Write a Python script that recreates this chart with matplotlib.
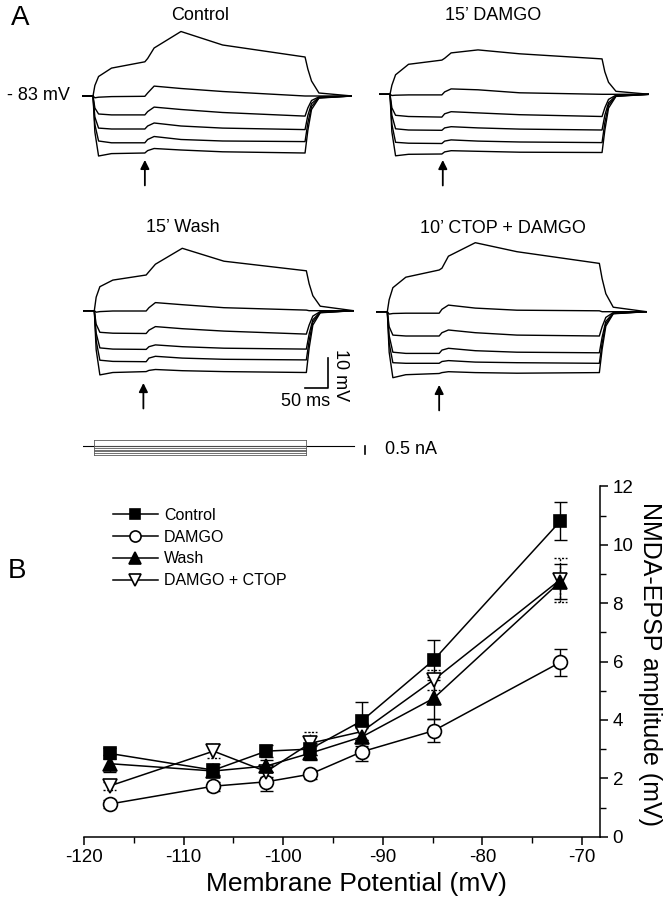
import matplotlib.pyplot as plt
from matplotlib.ticker import MultipleLocator

plt.rcParams['font.family'] = ['Liberation Sans', 'DejaVu Sans']

FIG_W, FIG_H = 672, 900
MS_PER_PX = 2.16
PX_PER_MV = 3.0

# ---- panel A: voltage responses, mV relative to rest (-83 mV) ----
trace_time_ms = [-24, 0, 4, 12, 40, 112, 118, 132, 190, 280, 458, 464, 472, 488, 560]

control_traces = [
    [0, 0, 3.5, 6.5, 9.3, 11.4, 12.5, 16.0, 21.5, 17.0, 13.0, 9.0, 5.0, 1.0, 0],
    [0, 0, -0.6, -0.4, -0.2, -0.1, 1.0, 3.3, 2.5, 1.5, 0.0, 0, 0, 0, 0],
    [0, 0, -4.0, -6.0, -6.3, -6.3, -5.2, -3.7, -4.5, -5.5, -6.7, -4.0, -1.5, -0.3, 0],
    [0, 0, -7.0, -10.7, -11.0, -11.0, -10.0, -9.0, -10.0, -10.7, -11.2, -6.5, -2.5, -0.5, 0],
    [0, 0, -9.5, -15.0, -15.6, -15.6, -14.5, -13.5, -14.5, -15.0, -15.2, -9.0, -3.5, -0.6, 0],
    [0, 0, -12.0, -20.0, -19.2, -19.0, -18.2, -17.5, -18.0, -18.6, -19.0, -11.5, -4.5, -0.7, 0],
]
damgo_traces = [
    [0, 0, 3.0, 6.5, 10.0, 11.4, 12.0, 13.8, 14.8, 13.5, 11.8, 7.5, 4.0, 1.0, 0],
    [0, 0, -0.4, -0.3, -0.2, -0.2, 0.8, 1.8, 1.5, 0.5, 0.0, 0, 0, 0, 0],
    [0, 0, -4.5, -7.0, -7.4, -7.6, -6.5, -5.8, -6.2, -6.8, -7.4, -4.5, -1.7, -0.3, 0],
    [0, 0, -7.0, -11.5, -11.9, -12.0, -11.2, -10.8, -11.2, -11.6, -11.9, -7.0, -2.8, -0.5, 0],
    [0, 0, -10.0, -16.0, -16.3, -16.4, -15.6, -15.2, -15.6, -15.9, -16.1, -9.5, -3.6, -0.6, 0],
    [0, 0, -12.5, -20.5, -20.0, -19.9, -19.2, -18.8, -19.0, -19.3, -19.4, -12.0, -4.6, -0.7, 0],
]
wash_traces = [
    [0, 0, 4.5, 8.0, 10.2, 11.9, 13.0, 15.5, 20.8, 16.5, 13.3, 9.0, 5.0, 1.5, 0],
    [0, 0, -0.5, -0.3, -0.1, -0.1, 1.0, 2.7, 2.0, 1.0, 0.2, 0, 0, 0, 0],
    [0, 0, -4.5, -7.2, -7.5, -7.6, -6.5, -5.3, -6.0, -6.8, -7.8, -4.8, -1.8, -0.3, 0],
    [0, 0, -7.5, -12.4, -12.8, -12.9, -12.0, -11.4, -12.0, -12.5, -12.8, -7.8, -3.0, -0.5, 0],
    [0, 0, -10.0, -16.5, -16.9, -17.0, -15.8, -15.2, -15.8, -16.2, -16.4, -10.0, -3.8, -0.6, 0],
    [0, 0, -13.0, -21.4, -20.6, -20.3, -19.9, -19.6, -20.0, -20.3, -20.6, -12.5, -4.8, -0.7, 0],
]
ctop_traces = [
    [0, 0, 4.0, 8.0, 11.5, 13.9, 14.5, 18.5, 23.0, 20.0, 16.1, 11.0, 6.0, 1.5, 0],
    [0, 0, -0.8, -0.6, -0.5, -0.5, 0.8, 2.2, 1.2, 0.5, 0.3, 0, 0, 0, 0],
    [0, 0, -5.0, -7.8, -8.1, -8.1, -7.0, -6.1, -7.0, -7.8, -8.1, -5.0, -1.9, -0.3, 0],
    [0, 0, -8.0, -13.5, -13.9, -13.9, -12.8, -12.2, -13.0, -13.5, -13.7, -8.5, -3.2, -0.5, 0],
    [0, 0, -10.5, -17.0, -17.2, -17.2, -16.6, -16.3, -16.8, -17.0, -17.2, -10.5, -4.0, -0.6, 0],
    [0, 0, -13.5, -22.0, -21.0, -20.6, -20.3, -20.0, -20.3, -20.5, -20.3, -12.5, -4.8, -0.7, 0],
]
panel_titles = ["Control", "15\u2019 DAMGO", "15\u2019 Wash", "10\u2019 CTOP + DAMGO"]
arrow_times_ms = [112, 114, 106, 112]

pulse_on_ms, pulse_off_ms = 0, 458
current_steps_na = [0.35, 0.0, -0.12, -0.24, -0.36, -0.48, -0.6]

# ---- panel B: NMDA-EPSP amplitude vs membrane potential ----
membrane_potential = [-117.4, -107.0, -101.7, -97.3, -92.1, -84.9, -72.2]
control_amp = [2.85, 2.28, 2.93, 3.0, 3.97, 6.05, 10.8]
control_err = [0.2, 0.2, 0.2, 0.2, 0.65, 0.7, 0.65]
damgo_amp = [1.12, 1.73, 1.88, 2.14, 2.91, 3.63, 5.97]
damgo_err = [0.15, 0.15, 0.32, 0.15, 0.33, 0.4, 0.46]
wash_amp = [2.5, 2.25, 2.42, 2.86, 3.42, 4.74, 8.73]
wash_err = [0.3, 0.15, 0.2, 0.25, 0.3, 0.72, 0.6]
ctop_amp = [1.74, 2.93, 2.23, 3.2, 3.6, 5.37, 8.8]
ctop_err = [0.15, 0.25, 0.2, 0.4, 0.3, 0.35, 0.75]
series_labels = ["Control", "DAMGO", "Wash", "DAMGO + CTOP"]

x_ticks = [-120, -110, -100, -90, -80, -70]
y_ticks = [0, 2, 4, 6, 8, 10, 12]


def px_axes(fig, left, top, width, height):
    return fig.add_axes([left / FIG_W, 1 - (top + height) / FIG_H, width / FIG_W, height / FIG_H])


def trace_panel(fig, left_px, baseline_px, traces, title, title_xy, arrow_ms, arrow_tip):
    t0, t1 = -24, 560
    v0, v1 = -34, 25
    ax = px_axes(fig, left_px, baseline_px - v1 * PX_PER_MV,
                 (t1 - t0) / MS_PER_PX, (v1 - v0) * PX_PER_MV)
    ax.set_xlim(t0, t1)
    ax.set_ylim(v0, v1)
    ax.axis('off')
    for trace in traces:
        ax.plot(trace_time_ms, trace, color='black', lw=1.0)
    ax.annotate('', xy=(arrow_ms, arrow_tip), xytext=(arrow_ms, arrow_tip - 8.5),
                arrowprops=dict(arrowstyle='-|>', color='black', lw=1.3, mutation_scale=13,
                                shrinkA=0, shrinkB=0), annotation_clip=False)
    fig.text(title_xy[0] / FIG_W, 1 - title_xy[1] / FIG_H, title, fontsize=13,
             ha='center', va='center')
    return ax


def current_panel(fig):
    ax = px_axes(fig, 83.2, 445.7 - 16, 784 / MS_PER_PX, 2.2 * 16)
    ax.set_xlim(-24, 760)
    ax.set_ylim(-1.2, 1.0)
    ax.axis('off')
    ax.plot([-24, 560], [0, 0], color='black', lw=0.8)
    for level in current_steps_na:
        ax.plot([pulse_on_ms, pulse_off_ms], [level, level], color='0.35', lw=0.6)
    for t in [pulse_on_ms, pulse_off_ms]:
        ax.plot([t, t], [min(current_steps_na), max(current_steps_na)], color='0.35', lw=0.6)
    ax.plot([585, 585], [0.0, -0.5], color='black', lw=1.2)
    ax.text(628, -0.25, "0.5 nA", fontsize=13, ha='left', va='center')


def draw_errorbars(ax, x, y, err, linestyle):
    cap = 0.65
    lows = [v - e for v, e in zip(y, err)]
    highs = [v + e for v, e in zip(y, err)]
    ax.vlines(x, lows, highs, colors='black', linestyles=linestyle, lw=1.0, zorder=2)
    ax.hlines(lows + highs, [v - cap for v in x] * 2, [v + cap for v in x] * 2,
              colors='black', linestyles=linestyle, lw=1.0, zorder=2)


def generate_panel_b(fig):
    ax = px_axes(fig, 84, 486.3, 516, 350.4)
    ax.set_xlim(-120, -68.2)
    ax.set_ylim(0, 12)

    draw_errorbars(ax, membrane_potential, damgo_amp, damgo_err, 'solid')
    draw_errorbars(ax, membrane_potential, ctop_amp, ctop_err, (0, (1.5, 1.2)))
    draw_errorbars(ax, membrane_potential, wash_amp, wash_err, 'solid')
    draw_errorbars(ax, membrane_potential, control_amp, control_err, 'solid')

    style = dict(color='black', lw=1.1, markeredgecolor='black', markeredgewidth=1.2, zorder=3)
    l_damgo, = ax.plot(membrane_potential, damgo_amp, marker='o', ms=10,
                       markerfacecolor='white', **style)
    l_ctop, = ax.plot(membrane_potential, ctop_amp, marker='v', ms=10,
                      markerfacecolor='white', **style)
    l_wash, = ax.plot(membrane_potential, wash_amp, marker='^', ms=10,
                      markerfacecolor='black', **style)
    l_control, = ax.plot(membrane_potential, control_amp, marker='s', ms=8.5,
                         markerfacecolor='black', **style)

    ax.legend([l_control, l_damgo, l_wash, l_ctop], series_labels, loc='upper left',
              bbox_to_anchor=(113 / FIG_W, 1 - 508 / FIG_H), bbox_transform=fig.transFigure,
              frameon=False, fontsize=11.5, handlelength=2.8, handletextpad=0.4,
              labelspacing=0.42, borderpad=0, borderaxespad=0, markerscale=0.8)

    for side in ['left', 'top']:
        ax.spines[side].set_visible(False)
    for side in ['right', 'bottom']:
        ax.spines[side].set_linewidth(1.1)
    ax.yaxis.tick_right()
    ax.set_xticks(x_ticks)
    ax.set_xticklabels([str(v) for v in x_ticks])
    ax.set_yticks(y_ticks)
    ax.xaxis.set_minor_locator(MultipleLocator(5))
    ax.yaxis.set_minor_locator(MultipleLocator(1))
    ax.tick_params(which='major', direction='out', length=6, width=1.1, labelsize=13.5, pad=3)
    ax.tick_params(which='minor', direction='out', length=4, width=1.0)

    fig.text(356 / FIG_W, 1 - 884 / FIG_H, "Membrane Potential (mV)", fontsize=19,
             ha='center', va='center')
    fig.text(650 / FIG_W, 1 - 664 / FIG_H, "NMDA-EPSP amplitude (mV)", fontsize=18,
             rotation=270, ha='center', va='center')


def main():
    fig = plt.figure(figsize=(FIG_W / 100, FIG_H / 100), dpi=100)

    fig.text(20 / FIG_W, 1 - 18 / FIG_H, "A", fontsize=20, ha='center', va='center')
    fig.text(17 / FIG_W, 1 - 571 / FIG_H, "B", fontsize=20, ha='center', va='center')
    fig.text(70 / FIG_W, 1 - 96 / FIG_H, "- 83 mV", fontsize=13, ha='right', va='center')

    trace_panel(fig, 81.9, 96.0, control_traces, panel_titles[0], (200, 15),
                arrow_times_ms[0], -21.3)
    trace_panel(fig, 378.9, 94.3, damgo_traces, panel_titles[1], (493, 15),
                arrow_times_ms[1], -21.9)
    wash_ax = trace_panel(fig, 83.2, 310.7, wash_traces, panel_titles[2], (183, 227),
                          arrow_times_ms[2], -24.1)
    trace_panel(fig, 376.2, 311.7, ctop_traces, panel_titles[3], (503, 228),
                arrow_times_ms[3], -24.4)

    # scale bars
    wash_ax.plot([455, 505, 505], [-25.9, -25.9, -15.9], color='black', lw=1.2, clip_on=False)
    wash_ax.text(531, -21.4, "10 mV", fontsize=13, rotation=270, ha='center', va='center')
    wash_ax.text(457, -30.4, "50 ms", fontsize=13, ha='center', va='center')

    current_panel(fig)
    generate_panel_b(fig)

    fig.savefig("out.png", dpi=100)


if __name__ == "__main__":
    main()
